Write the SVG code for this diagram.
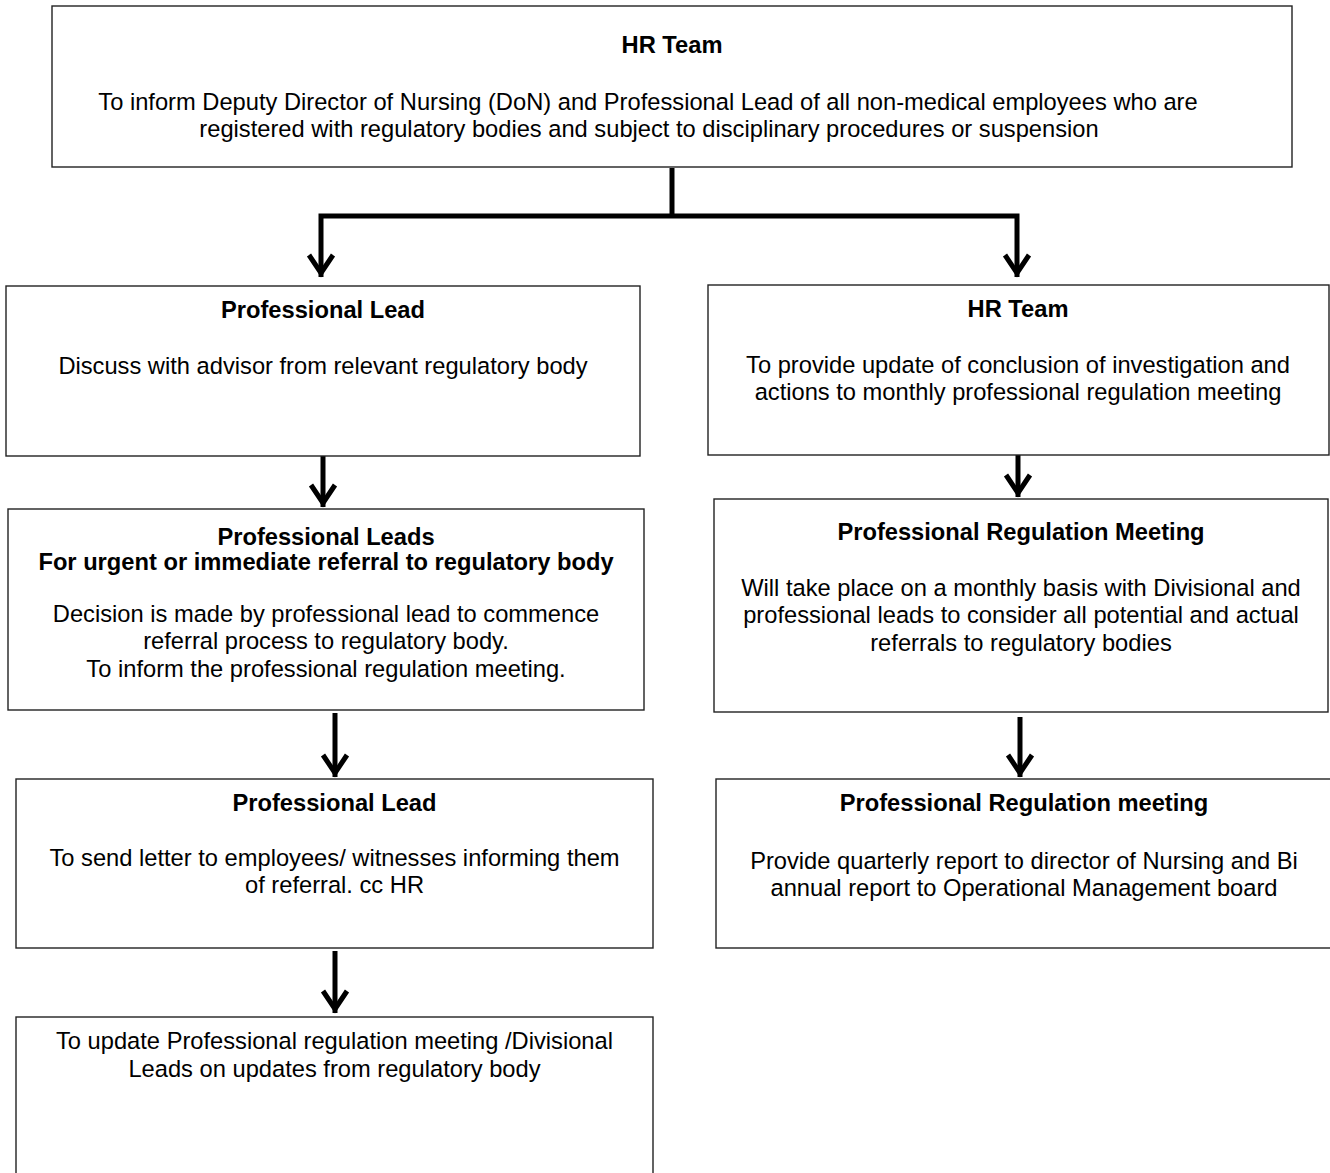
<svg xmlns="http://www.w3.org/2000/svg" width="1330" height="1173" viewBox="0 0 1330 1173">
<style>
.box{fill:#fff;stroke:#222;stroke-width:1.4}
text{font-family:"Liberation Sans",Arial,sans-serif;font-size:23.7px;fill:#000;text-anchor:middle}
.t{font-weight:bold}
.c{fill:none;stroke:#000;stroke-width:5;stroke-linejoin:miter}
</style>
<defs>
<marker id="arr" markerUnits="userSpaceOnUse" markerWidth="40" markerHeight="40" viewBox="-30 -20 40 40" refX="0" refY="0" orient="auto" overflow="visible">
<path d="M-22,-12 L-4,0 L-22,12" fill="none" stroke="#000" stroke-width="5" stroke-linejoin="miter"/>
</marker>
</defs>
<rect width="1330" height="1173" fill="#fff"/>
<g id="connectors">
<path class="c" d="M672,168 V216"/>
<path class="c" d="M672,216 H321 V277" marker-end="url(#arr)"/>
<path class="c" d="M672,216 H1017 V277" marker-end="url(#arr)"/>
<path class="c" d="M323,456 V507" marker-end="url(#arr)"/>
<path class="c" d="M335,713 V777" marker-end="url(#arr)"/>
<path class="c" d="M335,951 V1013" marker-end="url(#arr)"/>
<path class="c" d="M1018,455 V497" marker-end="url(#arr)"/>
<path class="c" d="M1020,717 V777" marker-end="url(#arr)"/>
</g>
<g id="hr-team-top">
<rect class="box" x="52" y="6" width="1240" height="161"/>
<text class="t" x="672" y="53">HR Team</text>
<text x="648" y="110">To inform Deputy Director of Nursing (DoN) and Professional Lead of all non-medical employees who are</text>
<text x="649" y="137">registered with regulatory bodies and subject to disciplinary procedures or suspension</text>
</g>
<g id="professional-lead-1">
<rect class="box" x="6" y="286" width="634" height="170"/>
<text class="t" x="323" y="318">Professional Lead</text>
<text x="323" y="374">Discuss with advisor from relevant regulatory body</text>
</g>
<g id="hr-team-update">
<rect class="box" x="708" y="285" width="621" height="170"/>
<text class="t" x="1018" y="317">HR Team</text>
<text x="1018" y="373">To provide update of conclusion of investigation and</text>
<text x="1018" y="400">actions to monthly professional regulation meeting</text>
</g>
<g id="professional-leads-urgent">
<rect class="box" x="8" y="509" width="636" height="201"/>
<text class="t" x="326" y="545">Professional Leads</text>
<text class="t" x="326" y="570">For urgent or immediate referral to regulatory body</text>
<text x="326" y="622">Decision is made by professional lead to commence</text>
<text x="326" y="649">referral process to regulatory body.</text>
<text x="326" y="677">To inform the professional regulation meeting.</text>
</g>
<g id="professional-regulation-meeting-monthly">
<rect class="box" x="714" y="499" width="614" height="213"/>
<text class="t" x="1021" y="540">Professional Regulation Meeting</text>
<text x="1021" y="596">Will take place on a monthly basis with Divisional and</text>
<text x="1021" y="623">professional leads to consider all potential and actual</text>
<text x="1021" y="651">referrals to regulatory bodies</text>
</g>
<g id="professional-lead-letter">
<rect class="box" x="16" y="779" width="637" height="169"/>
<text class="t" x="334.5" y="811">Professional Lead</text>
<text x="334.5" y="866">To send letter to employees/ witnesses informing them</text>
<text x="334.5" y="893">of referral. cc HR</text>
</g>
<g id="professional-regulation-meeting-report">
<rect class="box" x="716" y="779" width="616" height="169"/>
<text class="t" x="1024" y="811">Professional Regulation meeting</text>
<text x="1024" y="869">Provide quarterly report to director of Nursing and Bi</text>
<text x="1024" y="896">annual report to Operational Management board</text>
</g>
<g id="update-divisional-leads">
<rect class="box" x="16" y="1017" width="637" height="170"/>
<text x="334.5" y="1049">To update Professional regulation meeting /Divisional</text>
<text x="334.5" y="1077">Leads on updates from regulatory body</text>
</g>
</svg>
